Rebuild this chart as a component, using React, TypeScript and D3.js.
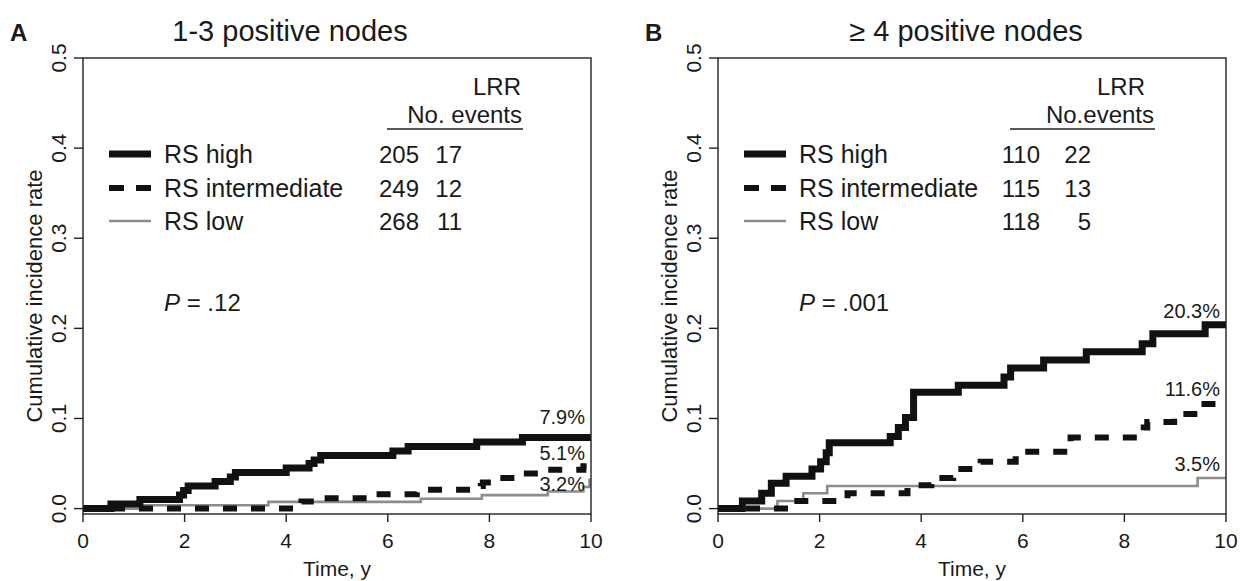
import React, { useEffect, useRef } from 'react';
import * as d3 from 'd3';

// axis ticks
const timeTicks = [0, 2, 4, 6, 8, 10];
const rateTicks = [0, 0.1, 0.2, 0.3, 0.4, 0.5];
const groups = ['RS high', 'RS intermediate', 'RS low'];

// panel A, 1-3 positive nodes: [time, cumulative incidence] after each step
const aHigh = [[0, 0], [0.55, 0.005], [1.12, 0.01], [1.9, 0.015], [1.98, 0.02], [2.07, 0.025], [2.6, 0.03], [2.9, 0.035], [3.0, 0.04], [4.0, 0.045], [4.45, 0.05], [4.55, 0.054], [4.68, 0.059], [6.1, 0.064], [6.4, 0.069], [7.75, 0.074], [8.65, 0.079]];
const aInter = [[0, 0], [4.27, 0.004], [4.3, 0.008], [4.72, 0.0115], [5.71, 0.016], [6.57, 0.021], [7.83, 0.025], [7.87, 0.029], [8.08, 0.034], [8.54, 0.039], [9.06, 0.043], [9.85, 0.047], [9.93, 0.051]];
const aLow = [[0, 0], [1.12, 0.0037], [3.65, 0.0075], [6.65, 0.011], [7.85, 0.015], [9.15, 0.019], [9.85, 0.024], [9.97, 0.032]];
const aNo = [205, 249, 268];
const aEvents = [17, 12, 11];
const aEnd = ['7.9%', '5.1%', '3.2%'];

// panel B, >= 4 positive nodes
const bHigh = [[0, 0], [0.48, 0.0085], [0.86, 0.017], [1.05, 0.028], [1.34, 0.036], [1.85, 0.044], [2.02, 0.052], [2.13, 0.062], [2.19, 0.073], [3.39, 0.08], [3.55, 0.09], [3.69, 0.101], [3.85, 0.129], [4.73, 0.137], [5.63, 0.146], [5.76, 0.156], [6.41, 0.165], [7.25, 0.174], [8.35, 0.183], [8.56, 0.194], [9.59, 0.204]];
const bInter = [[0, 0], [1.45, 0.0085], [2.55, 0.017], [3.73, 0.026], [4.2, 0.034], [4.63, 0.044], [5.17, 0.052], [5.86, 0.063], [6.94, 0.079], [8.38, 0.09], [8.45, 0.096], [8.98, 0.1], [9.03, 0.105], [9.45, 0.108], [9.5, 0.116]];
const bLow = [[0, 0], [1.17, 0.0085], [1.68, 0.017], [2.15, 0.025], [9.44, 0.034]];
const bNo = [110, 115, 118];
const bEvents = [22, 13, 5];
const bEnd = ['20.3%', '11.6%', '3.5%'];

const panels = [
  {
    letter: 'A', title: '1-3 positive nodes', titleX: 207, p: '.12', header: 'No. events',
    series: [aHigh, aInter, aLow], no: aNo, events: aEvents, end: aEnd,
    endAt: [0.094, 0.054, 0.02], left: 83, noRight: 336, evRight: 379, lrrRight: 438, rule: [304, 440],
  },
  {
    letter: 'B', title: '\u2265 4 positive nodes', titleX: 248, p: '.001', header: 'No.events',
    series: [bHigh, bInter, bLow], no: bNo, events: bEvents, end: bEnd,
    endAt: [0.212, 0.125, 0.042], left: 718, noRight: 322, evRight: 373, lrrRight: 427, rule: [292, 437],
  },
];

const styles = [
  { stroke: '#111', width: 7, dash: null, key: null },
  { stroke: '#111', width: 6, dash: '14 14', key: '15 12' },
  { stroke: '#8c8c8c', width: 2.6, dash: null, key: null },
];

const font = '"Liberation Sans", Arial, sans-serif';
const rowY = [154, 188, 221];

const App = () => {
  const ref = useRef(null);

  useEffect(() => {
    document.body.style.margin = '0';
    const svg = d3.select(ref.current);
    svg.selectAll('*').remove();
    svg.attr('font-family', font).attr('fill', '#1a1a1a');

    const top = 58;
    const bottom = 514;
    const plotW = 508;

    panels.forEach((p) => {
      const x = d3.scaleLinear().domain([0, 10]).range([p.left, p.left + plotW]);
      const y = d3.scaleLinear().domain([-0.006, 0.5]).range([bottom, top]);
      const g = svg.append('g');

      g.append('text').attr('x', p.left - 73).attr('y', 41)
        .attr('font-size', 24).attr('font-weight', 'bold').text(p.letter);
      g.append('text').attr('x', p.left + p.titleX).attr('y', 41)
        .attr('font-size', 29).attr('text-anchor', 'middle').text(p.title);

      // curves: low first, high on top
      const line = d3.line().x((d) => x(d[0])).y((d) => y(d[1])).curve(d3.curveStepAfter);
      [2, 1, 0].forEach((i) => {
        const s = p.series[i];
        const pts = [...s, [10, s[s.length - 1][1]]];
        g.append('path').attr('d', line(pts)).attr('fill', 'none')
          .attr('stroke', styles[i].stroke).attr('stroke-width', styles[i].width)
          .attr('stroke-dasharray', styles[i].dash);
      });

      // frame
      g.append('rect').attr('x', p.left).attr('y', top).attr('width', plotW).attr('height', bottom - top)
        .attr('fill', 'none').attr('stroke', '#222').attr('stroke-width', 1.4);

      // x ticks
      g.selectAll('.xt').data(timeTicks).enter().append('line')
        .attr('x1', (d) => x(d)).attr('x2', (d) => x(d)).attr('y1', bottom).attr('y2', bottom + 8)
        .attr('stroke', '#222').attr('stroke-width', 1.4);
      g.selectAll('.xl').data(timeTicks).enter().append('text')
        .attr('x', (d) => x(d)).attr('y', bottom + 34).attr('font-size', 21).attr('text-anchor', 'middle')
        .text((d) => d);
      g.append('text').attr('x', p.left + plotW / 2).attr('y', 576).attr('font-size', 21)
        .attr('text-anchor', 'middle').text('Time, y');

      // y ticks
      g.selectAll('.yt').data(rateTicks).enter().append('line')
        .attr('x1', p.left - 9).attr('x2', p.left).attr('y1', (d) => y(d)).attr('y2', (d) => y(d))
        .attr('stroke', '#222').attr('stroke-width', 1.4);
      g.selectAll('.yl').data(rateTicks).enter().append('text')
        .attr('transform', (d) => `translate(${p.left - 17},${y(d)}) rotate(-90)`)
        .attr('font-size', 21).attr('text-anchor', 'middle').text((d) => d3.format('.1f')(d));
      g.append('text').attr('transform', `translate(${p.left - 41},${(top + bottom) / 2 + 10}) rotate(-90)`)
        .attr('font-size', 22).attr('text-anchor', 'middle').text('Cumulative incidence rate');

      // legend table
      g.append('text').attr('x', p.left + p.lrrRight).attr('y', 95).attr('font-size', 24)
        .attr('text-anchor', 'end').text('LRR');
      g.append('text').attr('x', p.left + p.rule[1] - 1).attr('y', 123).attr('font-size', 24)
        .attr('text-anchor', 'end').text(p.header);
      g.append('line').attr('x1', p.left + p.rule[0]).attr('x2', p.left + p.rule[1])
        .attr('y1', 129).attr('y2', 129).attr('stroke', '#222').attr('stroke-width', 1.4);

      groups.forEach((name, i) => {
        const ry = rowY[i];
        g.append('line').attr('x1', p.left + 26).attr('x2', p.left + 68).attr('y1', ry).attr('y2', ry)
          .attr('stroke', styles[i].stroke).attr('stroke-width', styles[i].width)
          .attr('stroke-dasharray', styles[i].key);
        g.append('text').attr('x', p.left + 81).attr('y', ry + 9).attr('font-size', 25).text(name);
        g.append('text').attr('x', p.left + p.noRight).attr('y', ry + 9).attr('font-size', 24)
          .attr('text-anchor', 'end').text(p.no[i]);
        g.append('text').attr('x', p.left + p.evRight).attr('y', ry + 9).attr('font-size', 24)
          .attr('text-anchor', 'end').text(p.events[i]);
      });

      const pt = g.append('text').attr('x', p.left + 81).attr('y', 311).attr('font-size', 24);
      pt.append('tspan').attr('font-style', 'italic').text('P');
      pt.append('tspan').text(` = ${p.p}`);

      // end-of-follow-up labels
      p.end.forEach((lab, i) => {
        g.append('text').attr('x', x(10) - 6).attr('y', y(p.endAt[i])).attr('font-size', 20)
          .attr('text-anchor', 'end').text(lab);
      });
    });
  }, []);

  return <svg ref={ref} width={1240} height={581}></svg>;
};

export default App;
